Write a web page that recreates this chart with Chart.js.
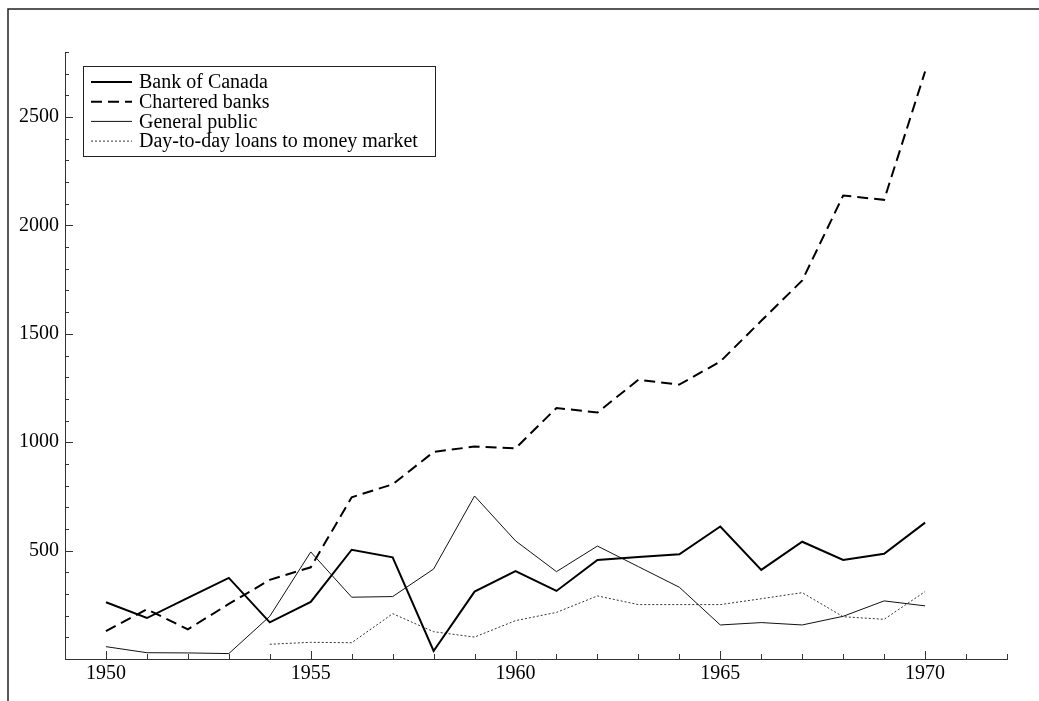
<!DOCTYPE html>
<html>
<head>
<meta charset="utf-8">
<script src="https://cdn.jsdelivr.net/npm/chart.js@4.4.1/dist/chart.umd.min.js"></script>
<style>
  html, body { margin: 0; padding: 0; background: #fff; }
  #wrap { position: relative; width: 1039px; height: 701px; }
</style>
</head>
<body>
<div id="wrap"><canvas id="myChart" width="1039" height="701"></canvas></div>
<script>
// holdings by year
const years = [1950, 1951, 1952, 1953, 1954, 1955, 1956, 1957, 1958, 1959, 1960,
               1961, 1962, 1963, 1964, 1965, 1966, 1967, 1968, 1969, 1970];
const bankOfCanada = [262, 189, 282, 374, 169, 263, 504, 469, 37, 311, 405,
                      314, 457, 470, 483, 611, 411, 541, 457, 485, 629];
const charteredBanks = [129, 229, 137, 254, 365, 423, 746, 806, 955, 980, 972,
                        1158, 1137, 1288, 1266, 1372, 1560, 1746, 2138, 2118, 2710];
const generalPublic = [57, 29, 28, 25, 197, 494, 285, 288, 415, 752, 545,
                       403, 521, 426, 331, 157, 168, 157, 197, 268, 245];
const dayToDay = [null, null, null, null, 68, 77, 75, 209, 126, 101, 177,
                  215, 291, 251, 251, 251, 278, 306, 195, 183, 311];

const xTickLabels = [1950, 1955, 1960, 1965, 1970];
const yTickLabels = [500, 1000, 1500, 2000, 2500];

const FONT = "'Liberation Serif', 'Times New Roman', serif";

function points(values) {
    return years.map((y, i) => ({ x: y, y: values[i] }));
}

// frame, inward tick marks and the boxed legend
const decor = {
    id: "decor",
    afterDraw(chart) {
        const ctx = chart.ctx;
        const xs = chart.scales.x;
        const ys = chart.scales.y;
        const area = chart.chartArea;
        ctx.save();

        // outer frame (left and top)
        ctx.strokeStyle = "#222";
        ctx.lineWidth = 1.5;
        ctx.beginPath();
        ctx.moveTo(8, 701);
        ctx.lineTo(8, 9);
        ctx.lineTo(1039, 9);
        ctx.stroke();

        // tick marks
        ctx.strokeStyle = "#333";
        ctx.lineWidth = 1;
        ctx.beginPath();
        for (let yr = 1949; yr <= 1972; yr++) {
            const px = Math.round(xs.getPixelForValue(yr)) + 0.5;
            const len = yr % 5 === 0 ? 8 : 5;
            ctx.moveTo(px, area.bottom);
            ctx.lineTo(px, area.bottom - len);
        }
        for (let v = 100; v <= 2800; v += 100) {
            const py = Math.round(ys.getPixelForValue(v)) + 0.5;
            const len = v % 500 === 0 ? 8 : 4;
            ctx.moveTo(area.left, py);
            ctx.lineTo(area.left + len, py);
        }
        ctx.stroke();

        // legend
        const box = { x: 83.5, y: 66.5, w: 352, h: 90 };
        ctx.fillStyle = "#fff";
        ctx.fillRect(box.x, box.y, box.w, box.h);
        ctx.strokeStyle = "#222";
        ctx.lineWidth = 1;
        ctx.setLineDash([]);
        ctx.strokeRect(box.x, box.y, box.w, box.h);
        ctx.font = "20px " + FONT;
        ctx.textBaseline = "middle";
        ctx.fillStyle = "#000";
        chart.data.datasets.forEach((ds, i) => {
            const cy = 82 + i * 19.7;
            ctx.strokeStyle = ds.borderColor;
            ctx.lineWidth = ds.borderWidth;
            ctx.setLineDash(ds.borderDash || []);
            ctx.beginPath();
            ctx.moveTo(91, cy);
            ctx.lineTo(132, cy);
            ctx.stroke();
            ctx.fillText(ds.label, 139, cy + 1);
        });
        ctx.restore();
    }
};

new Chart(document.getElementById("myChart"), {
    type: "line",
    plugins: [decor],
    data: {
        datasets: [
            {
                label: "Bank of Canada",
                data: points(bankOfCanada),
                borderColor: "#000",
                borderWidth: 2,
                pointRadius: 0,
                tension: 0
            },
            {
                label: "Chartered banks",
                data: points(charteredBanks),
                borderColor: "#000",
                borderWidth: 2,
                borderDash: [11, 6],
                pointRadius: 0,
                tension: 0
            },
            {
                label: "General public",
                data: points(generalPublic),
                borderColor: "#111",
                borderWidth: 1,
                pointRadius: 0,
                tension: 0
            },
            {
                label: "Day-to-day loans to money market",
                data: points(dayToDay),
                borderColor: "#333",
                borderWidth: 1,
                borderDash: [2, 2],
                pointRadius: 0,
                spanGaps: false,
                tension: 0
            }
        ]
    },
    options: {
        responsive: false,
        animation: false,
        layout: { padding: { left: 0, top: 52, right: 32, bottom: 0 } },
        plugins: {
            legend: { display: false },
            tooltip: { enabled: false }
        },
        scales: {
            x: {
                type: "linear",
                min: 1949,
                max: 1972,
                afterBuildTicks: (scale) => { scale.ticks = xTickLabels.map(v => ({ value: v })); },
                afterFit: (scale) => { scale.height = 42; },
                grid: { display: false, drawTicks: false },
                border: { display: true, color: "#333", width: 1 },
                ticks: {
                    color: "#000",
                    padding: 3,
                    maxRotation: 0,
                    font: { family: FONT, size: 20 },
                    callback: (v) => String(v)
                }
            },
            y: {
                min: 0,
                max: 2800,
                afterBuildTicks: (scale) => { scale.ticks = yTickLabels.map(v => ({ value: v })); },
                afterFit: (scale) => { scale.width = 65; },
                grid: { display: false, drawTicks: false },
                border: { display: true, color: "#333", width: 1 },
                ticks: {
                    color: "#000",
                    padding: 6,
                    font: { family: FONT, size: 20 },
                    callback: (v) => String(v)
                }
            }
        }
    }
});
</script>
</body>
</html>
